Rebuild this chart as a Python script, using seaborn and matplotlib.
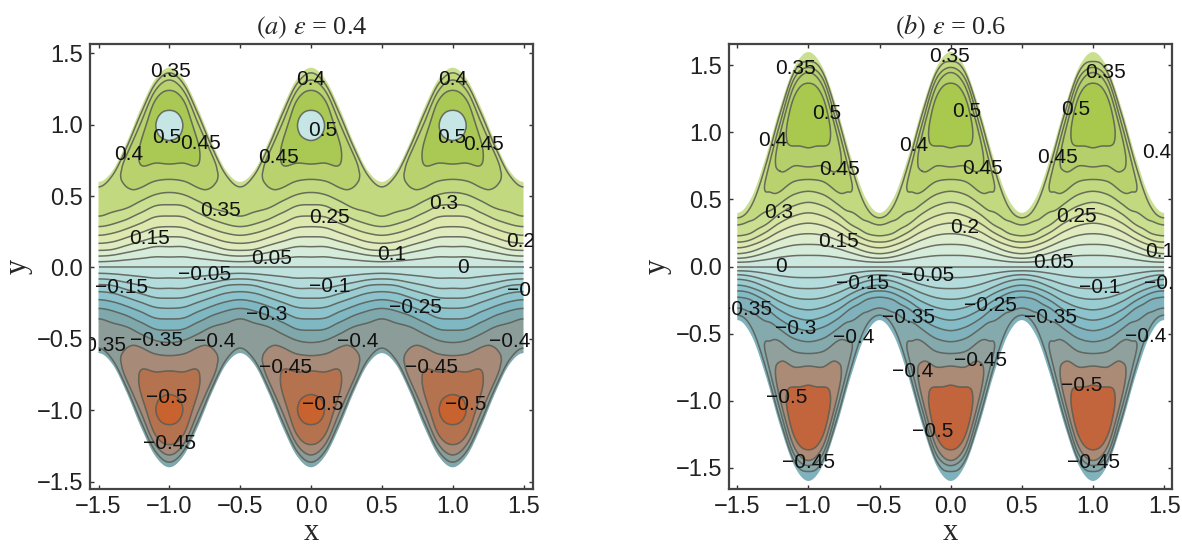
import numpy as np
import matplotlib
matplotlib.use("Agg")
import matplotlib.pyplot as plt
import seaborn as sns

sns.set_style("ticks")
plt.rcParams["font.family"] = ["Liberation Sans", "DejaVu Sans"]
plt.rcParams["mathtext.fontset"] = "stix"

# values, one period of the channel is mirrored from d=0..0.5
d_knots = [0.0, 0.1, 0.2, 0.3, 0.4, 0.5]
eta_knots = [0.0, 0.1, 0.2, 0.3, 0.4, 0.5, 0.6, 0.7, 0.8, 0.85, 0.9, 0.95, 1.0]
levels = [-0.7, -0.5, -0.45, -0.4, -0.35, -0.3, -0.25, -0.2, -0.15, -0.1, -0.05, 0.0,
          0.05, 0.1, 0.15, 0.2, 0.25, 0.3, 0.35, 0.4, 0.45, 0.5, 0.7]

wall_a = [1.40, 1.32, 1.12, 0.88, 0.68, 0.60]
wall_b = [1.60, 1.485, 1.185, 0.815, 0.515, 0.40]

# stream value at fraction eta of the local half width, rows follow d_knots
psi_a = [
    [0, .096, .196, .288, .369, .440, .487, .514, .495, .470, .440, .385, .31],
    [0, .090, .190, .277, .360, .424, .468, .495, .492, .470, .440, .385, .31],
    [0, .089, .184, .268, .339, .400, .440, .457, .447, .425, .405, .365, .31],
    [0, .083, .170, .244, .310, .362, .392, .408, .412, .408, .400, .360, .31],
    [0, .077, .160, .220, .275, .325, .358, .377, .388, .389, .380, .352, .31],
    [0, .074, .150, .210, .262, .310, .350, .375, .385, .382, .370, .345, .31],
]
psi_b = [
    [0, .097, .198, .301, .395, .475, .515, .535, .520, .503, .457, .358, .31],
    [0, .093, .194, .295, .380, .447, .498, .525, .522, .502, .458, .392, .31],
    [0, .087, .180, .272, .353, .415, .450, .470, .462, .440, .400, .360, .31],
    [0, .080, .160, .240, .310, .350, .380, .402, .400, .385, .362, .340, .31],
    [0, .070, .140, .195, .255, .305, .337, .355, .362, .358, .345, .325, .31],
    [0, .063, .130, .177, .224, .270, .310, .340, .352, .355, .352, .335, .31],
]

colors_a = ["#c8622f", "#b5724f", "#a88a78", "#8c9c98", "#7fa8ac", "#7fb8c2", "#8cc3cc",
            "#9acdd2", "#a7d5d8", "#b4dcdc", "#c0e2df", "#cde8df", "#d6ecdb", "#dcedd0",
            "#e0ecc0", "#dde9ae", "#d6e5a2", "#cbdf90", "#c2d97f", "#b9d26d", "#a9c954", "#c5e6e4"]
colors_b = ["#c2653d", "#ab8a76", "#90a09c", "#84aaae", "#7fb2bc", "#83bcc6", "#8cc3cc",
            "#9acdd2", "#a7d5d8", "#b4dcdc", "#c0e2df", "#cde8df", "#d6ecdb", "#dcedd0",
            "#e0ecc0", "#dde9ae", "#d6e5a2", "#cbdf90", "#c2d97f", "#b9d26d", "#b5d06a", "#a9c94e"]

labels_a = [
    ("0.35", -.99, 1.37), ("0.4", 0, 1.32), ("0.4", 1, 1.32), ("0.5", -1.02, .91),
    ("0.45", -.78, .87), ("0.5", .08, .96), ("0.5", .99, .91), ("0.45", 1.22, .86),
    ("0.4", -1.29, .79), ("0.45", -.23, .77), ("0.35", -.64, .40), ("0.25", .13, .35),
    ("0.3", .94, .45), ("0.15", -1.14, .20), ("0.2", 1.48, .18), ("0.05", -.28, .06),
    ("0.1", .57, .09), ("0", 1.07, 0), ("−0.05", -.75, -.05), ("−0.15", -1.34, -.14),
    ("−0.1", .13, -.13), ("−0.25", .74, -.28), ("−0.3", -.31, -.33), ("−0.2", 1.53, -.16),
    ("−0.35", -1.09, -.51), ("−0.4", -.68, -.52), ("−0.4", .33, -.52), ("−0.4", 1.4, -.52),
    ("−0.45", -.18, -.70), ("−0.45", .85, -.70), ("−0.35", -1.49, -.55), ("−0.5", -1.02, -.91),
    ("−0.5", .08, -.96), ("−0.5", 1.09, -.96), ("−0.45", -1.0, -1.23),
]
labels_b = [
    ("0.35", -1.09, 1.48), ("0.35", -.01, 1.57), ("0.35", 1.09, 1.45), ("0.5", -.87, 1.14),
    ("0.5", .11, 1.16), ("0.5", .88, 1.17), ("0.4", -1.25, .94), ("0.4", -.26, .90),
    ("0.4", 1.45, .85), ("0.45", -.78, .72), ("0.45", .22, .73), ("0.45", .75, .81),
    ("0.3", -1.21, .40), ("0.2", .1, .29), ("0.25", .88, .37), ("0.15", -.79, .19),
    ("0.1", 1.47, .11), ("0", -1.19, 0), ("0.05", .72, .03), ("−0.05", -.16, -.07),
    ("−0.15", -.62, -.13), ("−0.1", 1.05, -.16), ("−0.2", 1.5, -.13), ("−0.35", -1.44, -.32),
    ("−0.3", -1.09, -.46), ("−0.35", -.3, -.38), ("−0.25", .28, -.29), ("−0.35", .7, -.38),
    ("−0.4", -.68, -.53), ("−0.4", 1.37, -.52), ("−0.45", .21, -.70), ("−0.4", -.27, -.78),
    ("−0.5", -1.15, -.98), ("−0.5", .92, -.89), ("−0.5", -.13, -1.23), ("−0.45", -1.0, -1.46),
    ("−0.45", 1.0, -1.46),
]
ticks = [-1.5, -1.0, -0.5, 0.0, 0.5, 1.0, 1.5]


def hermite(xk, fk, xq):
    # smooth curve through the read values so the contours are not angular
    xk = np.asarray(xk, float)
    fk = np.asarray(fk, float)
    m = np.gradient(fk, xk, axis=0)
    i = np.clip(np.searchsorted(xk, xq) - 1, 0, len(xk) - 2)
    dx = xk[i + 1] - xk[i]
    t = (xq - xk[i]) / dx
    if fk.ndim == 2:
        t = t[:, None]
        dx = dx[:, None]
    return ((2*t**3 - 3*t**2 + 1) * fk[i] + (t**3 - 2*t**2 + t) * dx * m[i]
            + (-2*t**3 + 3*t**2) * fk[i + 1] + (t**3 - t**2) * dx * m[i + 1])


def field(wall, psi):
    d = np.asarray(d_knots)
    e = np.asarray(eta_knots)
    p = np.asarray(psi, float)
    # mirror: antisymmetric across the centre line, even about crest and trough
    e_full = np.r_[-e[:0:-1], e]
    p_full = np.c_[-p[:, :0:-1], p]
    d_full = np.r_[-d[2:0:-1], d, 1 - d[4:2:-1]]
    p_full = np.r_[p_full[2:0:-1], p_full, p_full[4:2:-1]]
    h_full = np.r_[np.asarray(wall)[2:0:-1], wall, np.asarray(wall)[4:2:-1]]

    x = np.linspace(-1.5, 1.5, 721)
    dq = np.abs((x + 0.5) % 1.0 - 0.5)
    eq = np.linspace(-1, 1, 401)
    h = hermite(d_full, h_full, dq)
    z = hermite(d_full, p_full, dq)          # shape: nx, n_eta
    z = hermite(e_full, z.T, eq)             # shape: n_eta_q, nx
    X = np.tile(x, (len(eq), 1))
    Y = np.outer(eq, h)
    return X, Y, z


fig = plt.figure(figsize=(11.82, 5.47), dpi=100)
W, H = 1182, 547
ax_a = fig.add_axes([90 / W, 1 - 489 / H, 443 / W, 445 / H])
ax_b = fig.add_axes([729 / W, 1 - 489 / H, 443 / W, 445 / H])

panels = [
    (ax_a, wall_a, psi_a, colors_a, labels_a, r"$\mathit{(a)}\ \varepsilon$ = 0.4", (-1.56, 1.567), (-1.552, 1.566)),
    (ax_b, wall_b, psi_b, colors_b, labels_b, r"$\mathit{(b)}\ \varepsilon$ = 0.6", (-1.558, 1.555), (-1.66, 1.66)),
]
for ax, wall, psi, cols, labs, title, xlim, ylim in panels:
    X, Y, Z = field(wall, psi)
    ax.contourf(X, Y, Z, levels=levels, colors=sns.color_palette(cols), antialiased=True)
    ax.contour(X, Y, Z, levels=levels[1:-1], colors="#55584f", linewidths=1.1, alpha=0.85,
               linestyles="solid")
    for s, lx, ly in labs:
        ax.text(lx, ly, s, fontsize=15, ha="center", va="center", color="#111111", clip_on=True)
    ax.set_xlim(*xlim)
    ax.set_ylim(*ylim)
    ax.set_xticks(ticks)
    ax.set_yticks(ticks)
    ax.set_xticklabels(["−1.5", "−1.0", "−0.5", "0.0", "0.5", "1.0", "1.5"])
    ax.set_yticklabels(["−1.5", "−1.0", "−0.5", "0.0", "0.5", "1.0", "1.5"])
    ax.tick_params(direction="in", top=True, right=True, length=3, width=1, color="#333333",
                   labelsize=17, labelcolor="#222222", pad=5)
    for sp in ax.spines.values():
        sp.set_linewidth(1.6)
        sp.set_color("#444444")
    ax.set_xlabel("x", family="Liberation Serif", fontsize=22, labelpad=0)
    ax.set_ylabel("y", family="Liberation Serif", fontsize=22, labelpad=3)
    ax.set_title(title, family="Liberation Serif", fontsize=19, pad=7)

fig.savefig("out.png", dpi=100)
